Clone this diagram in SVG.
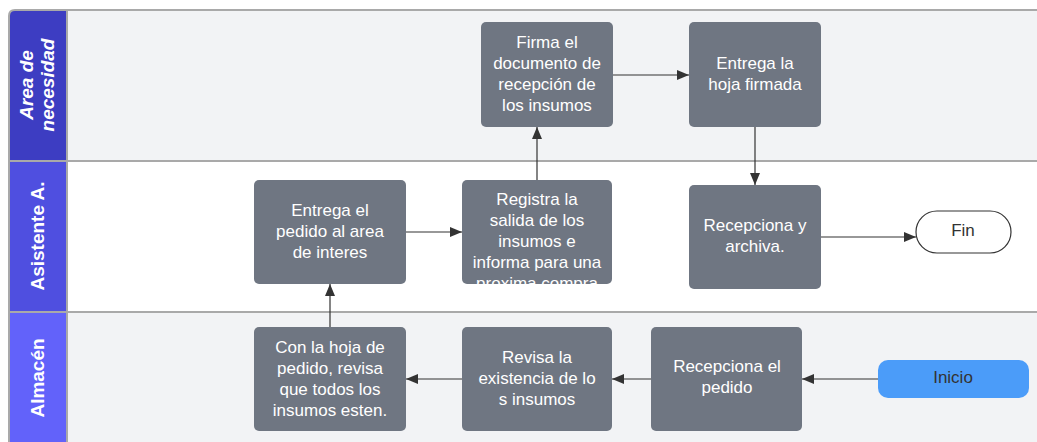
<svg xmlns="http://www.w3.org/2000/svg" width="1037" height="442" viewBox="0 0 1037 442">
<style>
.node{fill:#6f7682;}
.nt{font-family:"Liberation Sans",Arial,sans-serif;font-size:17px;fill:#ffffff;text-anchor:middle;}
.dt{font-family:"Liberation Sans",Arial,sans-serif;font-size:17px;fill:#333333;text-anchor:middle;}
.ht{font-family:"Liberation Sans",Arial,sans-serif;font-size:19px;font-weight:bold;fill:#ffffff;text-anchor:middle;}
.conn{stroke:#333333;stroke-width:1.2;fill:none;marker-end:url(#arr);}
.lane{stroke:#a9a9a9;stroke-width:2;}
</style>
<defs>
<marker id="arr" viewBox="0 0 12 10" refX="12" refY="5" markerWidth="12" markerHeight="10" markerUnits="userSpaceOnUse" orient="auto">
<path d="M0,0 L12,5 L0,10 Z" fill="#333333"/>
</marker>
<clipPath id="clipReg"><rect x="462" y="180" width="150" height="104" rx="5"/></clipPath>
</defs>
<rect width="1037" height="442" fill="#ffffff"/>
<g id="lanes">
<rect x="67" y="10" width="980" height="151" fill="#f2f3f5"/>
<rect x="67" y="161" width="980" height="151" fill="#ffffff"/>
<rect x="67" y="312" width="980" height="140" fill="#f2f3f5"/>
<path d="M9,452 L9,16 Q9,10 15,10 L67,10 L67,452 Z" fill="#3d3dc2"/>
<rect x="9" y="161" width="58" height="151" fill="#4f4fe0"/>
<rect x="9" y="312" width="58" height="140" fill="#6262fa"/>
<path d="M9,452 L9,16 Q9,10 15,10 L1040,10" class="lane" fill="none"/>
<line x1="9" y1="161" x2="1040" y2="161" class="lane"/>
<line x1="9" y1="312" x2="1040" y2="312" class="lane"/>
<line x1="67" y1="10" x2="67" y2="452" class="lane"/>
<text class="ht" font-style="italic" transform="translate(33,85) rotate(-90)">Area de</text>
<text class="ht" font-style="italic" transform="translate(54,85) rotate(-90)">necesidad</text>
<text class="ht" transform="translate(44,236) rotate(-90)">Asistente A.</text>
<text class="ht" transform="translate(44,378) rotate(-90)">Almacén</text>
</g>
<g id="connectors">
<line x1="878" y1="379" x2="802" y2="379" class="conn"/>
<line x1="651" y1="379" x2="612" y2="379" class="conn"/>
<line x1="462" y1="379" x2="406" y2="379" class="conn"/>
<line x1="330" y1="327" x2="330" y2="284" class="conn"/>
<line x1="406" y1="232" x2="462" y2="232" class="conn"/>
<line x1="537" y1="180" x2="537" y2="127" class="conn"/>
<line x1="613" y1="75" x2="689" y2="75" class="conn"/>
<line x1="755" y1="127" x2="755" y2="185" class="conn"/>
<line x1="821" y1="237" x2="916" y2="237" class="conn"/>
</g>
<g id="firma">
<rect class="node" x="481" y="22" width="132" height="105" rx="5"/>
<text class="nt" x="547" y="48">Firma el</text>
<text class="nt" x="547" y="69">documento de</text>
<text class="nt" x="547" y="90">recepción de</text>
<text class="nt" x="547" y="111">los insumos</text>
</g>
<g id="entrega-hoja">
<rect class="node" x="689" y="22" width="132" height="105" rx="5"/>
<text class="nt" x="755" y="69">Entrega la</text>
<text class="nt" x="755" y="90">hoja firmada</text>
</g>
<g id="entrega-pedido">
<rect class="node" x="254" y="180" width="152" height="104" rx="5"/>
<text class="nt" x="330" y="216">Entrega el</text>
<text class="nt" x="330" y="237">pedido al area</text>
<text class="nt" x="330" y="258">de interes</text>
</g>
<g id="registra">
<rect class="node" x="462" y="180" width="150" height="104" rx="5"/>
<g clip-path="url(#clipReg)">
<text class="nt" x="537" y="205">Registra la</text>
<text class="nt" x="537" y="226">salida de los</text>
<text class="nt" x="537" y="247">insumos e</text>
<text class="nt" x="537" y="268">informa para una</text>
<text class="nt" x="537" y="289">proxima compra</text>
</g>
</g>
<g id="recepciona-archiva">
<rect class="node" x="689" y="185" width="132" height="104" rx="5"/>
<text class="nt" x="755" y="231">Recepciona y</text>
<text class="nt" x="755" y="252">archiva.</text>
</g>
<g id="fin">
<rect x="916" y="211" width="95" height="42" rx="21" fill="#ffffff" stroke="#333333" stroke-width="1.2"/>
<text class="dt" x="963" y="236">Fin</text>
</g>
<g id="con-hoja">
<rect class="node" x="254" y="327" width="152" height="104" rx="5"/>
<text class="nt" x="330" y="353">Con la hoja de</text>
<text class="nt" x="330" y="374">pedido, revisa</text>
<text class="nt" x="330" y="395">que todos los</text>
<text class="nt" x="330" y="416">insumos esten.</text>
</g>
<g id="revisa">
<rect class="node" x="462" y="327" width="150" height="104" rx="5"/>
<text class="nt" x="537" y="363">Revisa la</text>
<text class="nt" x="537" y="384">existencia de lo</text>
<text class="nt" x="537" y="405">s insumos</text>
</g>
<g id="recepciona-pedido">
<rect class="node" x="651" y="327" width="151" height="104" rx="5"/>
<text class="nt" x="727" y="372">Recepciona el</text>
<text class="nt" x="727" y="393">pedido</text>
</g>
<g id="inicio">
<rect x="878" y="360" width="151" height="38" rx="10" fill="#4b9cf9"/>
<text class="dt" x="953" y="383">Inicio</text>
</g>
</svg>
